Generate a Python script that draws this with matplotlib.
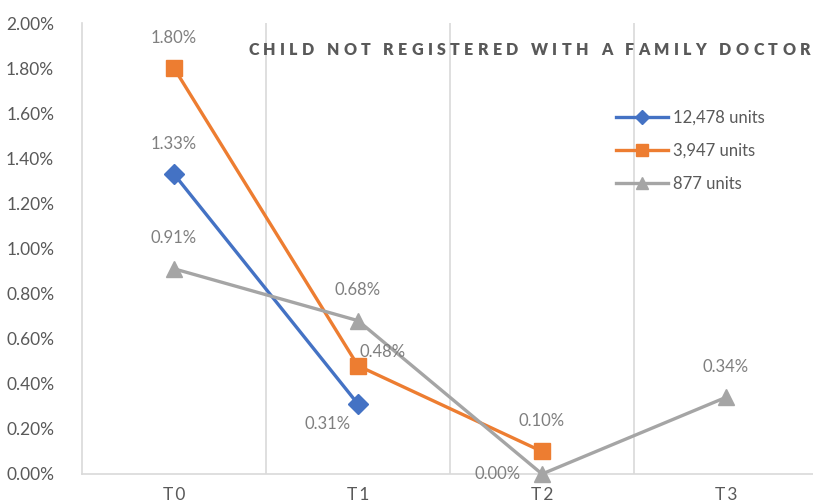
import matplotlib
matplotlib.use("Agg")
import matplotlib.pyplot as plt
from matplotlib.font_manager import FontProperties

plt.rcParams['font.family'] = ['Lato', 'DejaVu Sans']

# Data
categories = ["T0", "T1", "T2", "T3"]
series_names = ["12,478 units", "3,947 units", "877 units"]
blue_vals = [1.33, 0.31]
orange_vals = [1.80, 0.48, 0.10]
gray_vals = [0.91, 0.68, 0.00, 0.34]
y_ticks = [0.0, 0.2, 0.4, 0.6, 0.8, 1.0, 1.2, 1.4, 1.6, 1.8, 2.0]
title = "CHILD NOT REGISTERED WITH A FAMILY DOCTOR"

BLUE = "#4472C4"
ORANGE = "#ED7D31"
GRAY = "#A5A5A5"
TXT = "#595959"
LABEL = "#7F7F7F"

fig = plt.figure(figsize=(8.13, 5.04), dpi=100)
W, H = 813, 504
ax = fig.add_axes([82 / W, 1 - 474 / H, (818 - 82) / W, (474 - 23) / H])

x = list(range(len(categories)))
ax.plot(x[:len(blue_vals)], blue_vals, color=BLUE, lw=2.4, marker="D", ms=10,
        label=series_names[0], zorder=3)
ax.plot(x[:len(orange_vals)], orange_vals, color=ORANGE, lw=2.4, marker="s", ms=12,
        label=series_names[1], zorder=3)
ax.plot(x[:len(gray_vals)], gray_vals, color=GRAY, lw=2.4, marker="^", ms=12,
        label=series_names[2], zorder=4, clip_on=False)

ax.set_xlim(-0.5, 3.5)
ax.set_ylim(0, 2.0)
ax.set_yticks(y_ticks)
ax.set_yticklabels([f"{v:.2f}%" for v in y_ticks])
ax.set_xticks(x)
ax.set_xticklabels(["T\u20090", "T\u20091", "T\u20092", "T\u20093"])
ax.tick_params(length=0, labelsize=12.5, colors=TXT)
ax.tick_params(axis="y", pad=20)
ax.tick_params(axis="x", pad=9)

# vertical category boundaries
for b in [0.5, 1.5, 2.5]:
    ax.axvline(b, color="#D9D9D9", lw=1.2, zorder=1)
for s in ["top", "right"]:
    ax.spines[s].set_visible(False)
for s in ["left", "bottom"]:
    ax.spines[s].set_color("#D9D9D9")
    ax.spines[s].set_linewidth(1.2)

# value labels
def lab(xi, v, dx, dy):
    ax.annotate(f"{v:.2f}%", (xi, v), xytext=(dx, dy), textcoords="offset points",
                ha="center", va="center", fontsize=12, color=LABEL, zorder=5)

lab(0, blue_vals[0], 0, 22)
lab(1, blue_vals[1], -22, -14)
lab(0, orange_vals[0], 0, 22)
lab(1, orange_vals[1], 18, 10)
lab(2, orange_vals[2], 0, 22)
lab(0, gray_vals[0], 0, 22)
lab(1, gray_vals[1], 0, 22)
lab(2, gray_vals[2], -32, 0)
lab(3, gray_vals[3], 0, 22)

# letter-spaced title: lay out characters one by one with extra tracking
renderer = fig.canvas.get_renderer()
tprop = FontProperties(family="Lato", weight="heavy", size=11.5)
widths = [renderer.get_text_width_height_descent(c if c != " " else "n", tprop, ismath=False)[0] * (0.45 if c == " " else 1.0)
          for c in title]
t_left, t_right = 248, 810
tracking = (t_right - t_left - sum(widths)) / (len(title) - 1)
cx = t_left
for c, w in zip(title, widths):
    if c != " ":
        fig.text(cx / W, 1 - 50 / H, c, ha="left", va="center",
                 fontproperties=tprop, color=TXT)
    cx += w + tracking

leg = ax.legend(loc="upper left", bbox_to_anchor=(616 / W, 1 - 110 / H),
                bbox_transform=fig.transFigure, frameon=False, fontsize=12,
                handlelength=3.1, handletextpad=0.3, labelspacing=1.02,
                borderaxespad=0, borderpad=0, markerscale=0.75)
for t in leg.get_texts():
    t.set_color(TXT)

fig.savefig("out.png", dpi=100)
